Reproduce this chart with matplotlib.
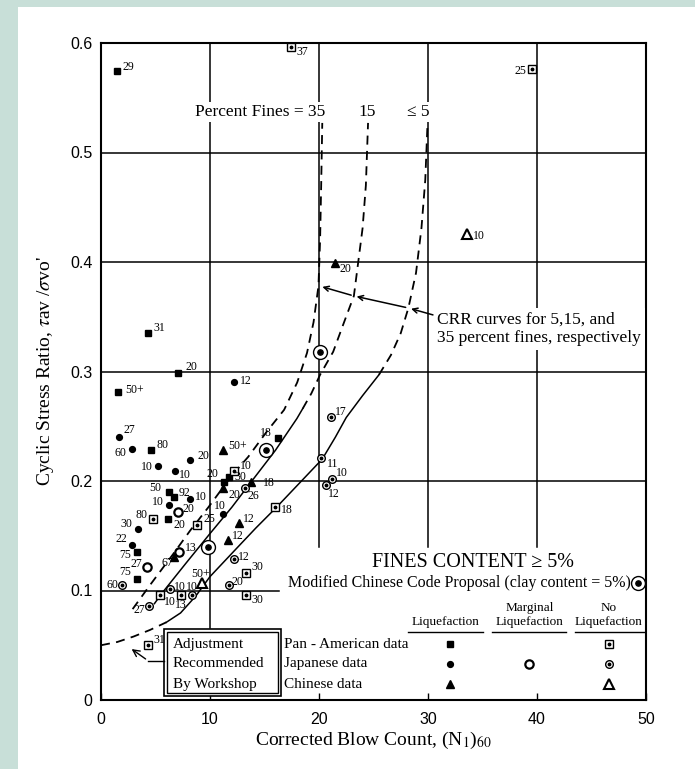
import matplotlib
matplotlib.use("Agg")
import matplotlib.pyplot as plt
from matplotlib.patches import Rectangle

plt.rcParams['font.family'] = ['Liberation Serif', 'DejaVu Serif']
plt.rcParams['mathtext.fontset'] = 'stix'

# ---- field case histories: (N1)60, cyclic stress ratio, fines label ----
# Pan-American data, liquefaction
pa_liq_n = [1.5, 4.3, 7.1, 1.6, 4.6, 16.2, 11.7, 11.3, 6.2, 6.7, 6.15, 3.3, 3.3]
pa_liq_csr = [0.574, 0.335, 0.299, 0.281, 0.228, 0.239, 0.2035, 0.199, 0.190, 0.1855, 0.165, 0.135, 0.1105]
pa_liq_lab = ['29', '31', '20', '50+', '80', '18', '30', '20', '50', '92', '20', '75', '75']
# Japanese data, liquefaction
jp_liq_n = [12.2, 1.65, 2.8, 8.2, 5.25, 6.8, 8.2, 6.25, 11.2, 3.35, 2.8]
jp_liq_csr = [0.290, 0.240, 0.229, 0.219, 0.214, 0.209, 0.184, 0.178, 0.170, 0.156, 0.142]
jp_liq_lab = ['12', '27', '60', '20', '10', '10', '10', '10', '10', '30', '22']
# Japanese data, marginal liquefaction
jp_mar_n = [7.1, 7.2, 4.2]
jp_mar_csr = [0.172, 0.135, 0.1217]
jp_mar_lab = ['20', '13', '27']
# Chinese data, liquefaction
cn_liq_n = [21.5, 11.2, 11.15, 13.8, 12.65, 11.65, 6.7]
cn_liq_csr = [0.399, 0.228, 0.194, 0.199, 0.1615, 0.146, 0.131]
cn_liq_lab = ['20', '50+', '20', '18', '12', '12', '67']
# Pan-American data, no liquefaction
pa_no_n = [17.45, 39.5, 12.2, 4.8, 8.85, 16.0, 13.3, 13.3, 7.3, 5.4, 4.3]
pa_no_csr = [0.596, 0.576, 0.209, 0.165, 0.160, 0.176, 0.116, 0.0955, 0.096, 0.0955, 0.050]
pa_no_lab = ['37', '25', '10', '80', '25', '18', '30', '30', '13', '10', '31']
# Japanese data, no liquefaction
jp_no_n = [21.1, 20.2, 21.2, 20.6, 13.2, 12.2, 11.7, 1.95, 6.35, 8.35, 4.4]
jp_no_csr = [0.258, 0.221, 0.202, 0.196, 0.1937, 0.129, 0.105, 0.105, 0.101, 0.096, 0.086]
jp_no_lab = ['17', '11', '10', '12', '26', '12', '20', '60', '10', '10', '27']
# Chinese data, no liquefaction
cn_no_n = [33.6, 9.3]
cn_no_csr = [0.426, 0.1066]
cn_no_lab = ['10', '50+']
# modified Chinese code proposal points
mcc_n = [15.1, 9.85, 20.05]
mcc_csr = [0.228, 0.140, 0.318]

# ---- CRR curves ----
f35_n = [2.9, 4.5, 6.6, 8.2, 9.85, 12.0, 13.5, 15.2, 16.8, 18.0, 18.9, 19.5, 19.95, 20.1, 20.2, 20.3]
f35_csr = [0.083, 0.105, 0.133, 0.155, 0.176, 0.205, 0.222, 0.245, 0.265, 0.29, 0.317, 0.345, 0.378, 0.42, 0.47, 0.527]
f15_solid_n = [4.9, 5.6, 7.8, 10.0, 12.0, 13.84, 16.0, 17.97, 18.5]
f15_solid_csr = [0.088, 0.0976, 0.125, 0.152, 0.176, 0.200, 0.228, 0.257, 0.266]
f15_dash_n = [18.5, 19.3, 20.1, 21.3, 22.3, 23.2, 23.6, 24.0, 24.3, 24.5]
f15_dash_csr = [0.266, 0.280, 0.297, 0.318, 0.345, 0.369, 0.400, 0.431, 0.47, 0.527]
f5_adj_n = [0.0, 1.5, 3.0, 4.5, 6.0]
f5_adj_csr = [0.050, 0.053, 0.058, 0.064, 0.071]
f5_solid_n = [6.0, 7.3, 8.7, 10.0, 12.3, 14.2, 16.1, 18.2, 20.3, 21.5, 22.5, 24.0, 25.5]
f5_solid_csr = [0.071, 0.0795, 0.095, 0.1127, 0.137, 0.157, 0.176, 0.198, 0.220, 0.240, 0.258, 0.278, 0.297]
f5_dash_n = [25.5, 26.6, 27.5, 28.2, 28.9, 29.4, 29.75, 29.95]
f5_dash_csr = [0.297, 0.315, 0.335, 0.358, 0.39, 0.431, 0.475, 0.525]

# label offsets (points) and alignment for each point label
pa_liq_off = [(4, 3, 'left'), (4, 4, 'left'), (5, 4, 'left'), (5, 2, 'left'), (4, 4, 'left'),
              (-4, 4, 'right'), (4, 0, 'left'), (-4, 6, 'right'), (-5, 3, 'right'), (3, 3, 'left'),
              (4, -4, 'left'), (-4, -2, 'right'), (-4, 5, 'right')]
jp_liq_off = [(4, 1, 'left'), (3, 5, 'left'), (-4, -3, 'right'), (5, 3, 'left'), (-4, -1, 'right'),
              (3, -3, 'left'), (3, 1, 'left'), (-4, 2, 'right'), (-2, 6, 'center'), (-4, 4, 'right'),
              (-3, 4, 'right')]
jp_mar_off = [(3, 2, 'left'), (4, 3, 'left'), (-3, 2, 'right')]
cn_liq_off = [(3, -4, 'left'), (4, 3, 'left'), (4, -5, 'left'), (8, -1, 'left'), (3, 3, 'left'),
              (3, 3, 'left'), (-5, -5, 'center')]
pa_no_off = [(4, -3, 'left'), (-4, -1, 'right'), (4, 4, 'left'), (-4, 3, 'right'), (4, 4, 'left'),
             (4, -2, 'left'), (4, 4, 'left'), (4, -3, 'left'), (0, -7, 'center'), (3, -5, 'left'),
             (4, 4, 'left')]
jp_no_off = [(3, 4, 'left'), (4, -4, 'left'), (3, 4, 'left'), (2, -6, 'left'), (2, -6, 'left'),
             (3, 1, 'left'), (2, 2, 'left'), (-3, 0, 'right'), (3, 2, 'left'), (0, 6, 'center'),
             (-3, -3, 'right')]
cn_no_off = [(4, -2, 'left'), (-1, 7, 'center')]

fig = plt.figure(figsize=(6.95, 7.69), dpi=100, facecolor='#c8dfd8')
fig.add_artist(Rectangle((18 / 695, 0), 1 - 18 / 695, 1 - 7 / 769, transform=fig.transFigure,
                         facecolor='white', edgecolor='none', zorder=-5))
ax = fig.add_axes([101 / 695, 69 / 769, 545 / 695, 657 / 769])
ax.set_xlim(0, 50)
ax.set_ylim(0, 0.6)
for s in ax.spines.values():
    s.set_linewidth(1.5)

ax.set_xticks([0, 10, 20, 30, 40, 50])
ax.set_yticks([0, 0.1, 0.2, 0.3, 0.4, 0.5, 0.6])
ax.set_yticklabels(['0', '0.1', '0.2', '0.3', '0.4', '0.5', '0.6'])
ax.tick_params(axis='x', direction='in', length=5, width=1, pad=9)
ax.tick_params(axis='y', length=0, pad=6)
for t in ax.get_xticklabels() + ax.get_yticklabels():
    t.set_fontfamily('Liberation Sans')
    t.set_fontsize(11.5)

ax.set_xlabel(r"Corrected Blow Count, (N$_{\rm 1}$)$_{60}$", fontsize=14, labelpad=2)
ax.set_ylabel(r"Cyclic Stress Ratio, $\tau$av /$\sigma$vo'", fontsize=14, labelpad=10)

# grid lines (partial, as on the original chart)
gl = dict(color='black', lw=1.1, zorder=1)
for y in [0.2, 0.3, 0.4, 0.5]:
    ax.plot([0, 50], [y, y], **gl)
ax.plot([0, 16.3], [0.1, 0.1], **gl)
ax.plot([10, 10], [0.066, 0.6], **gl)
for x in [20, 30, 40]:
    ax.plot([x, x], [0.14, 0.6], **gl)

# CRR curves
dash = dict(color='black', lw=1.3, ls=(0, (5, 3.5)), zorder=2)
solid = dict(color='black', lw=1.1, zorder=2)
ax.plot(f35_n, f35_csr, **dash)
ax.plot(f15_solid_n, f15_solid_csr, **solid)
ax.plot(f15_dash_n, f15_dash_csr, **dash)
ax.plot(f5_adj_n, f5_adj_csr, **dash)
ax.plot(f5_solid_n, f5_solid_csr, **solid)
ax.plot(f5_dash_n, f5_dash_csr, **dash)

# marker styles
liq_sq = dict(marker='s', ms=4.2, color='black', ls='none', zorder=5)
liq_ci = dict(marker='o', ms=4.2, color='black', ls='none', zorder=5)
liq_tr = dict(marker='^', ms=5.2, color='black', ls='none', zorder=5)
mar_ci = dict(marker='o', ms=6, mfc='white', mec='black', mew=1.6, ls='none', zorder=5)
no_sq = dict(marker='s', ms=6, mfc='white', mec='black', mew=1.0, ls='none', zorder=5)
no_ci = dict(marker='o', ms=5.5, mfc='white', mec='black', mew=1.0, ls='none', zorder=5)
no_tr = dict(marker='^', ms=7, mfc='white', mec='black', mew=1.5, ls='none', zorder=5)
dot = dict(marker='o', ms=1.8, color='black', ls='none', zorder=6)
mcc = dict(marker='o', ms=10, mfc='white', mec='black', mew=1.0, ls='none', zorder=5)
mcc_dot = dict(marker='o', ms=3.8, color='black', ls='none', zorder=6)


def put_labels(xs, ys, labels, offs):
    for x, y, t, (dx, dy, ha) in zip(xs, ys, labels, offs):
        ax.annotate(t, (x, y), xytext=(dx, dy), textcoords='offset points',
                    ha=ha, va='center', fontsize=8.5, zorder=7)


ax.plot(pa_liq_n, pa_liq_csr, **liq_sq)
ax.plot(jp_liq_n, jp_liq_csr, **liq_ci)
ax.plot(jp_mar_n, jp_mar_csr, **mar_ci)
ax.plot(cn_liq_n, cn_liq_csr, **liq_tr)
ax.plot(pa_no_n, pa_no_csr, **no_sq)
ax.plot(pa_no_n, pa_no_csr, **dot)
ax.plot(jp_no_n, jp_no_csr, **no_ci)
ax.plot(jp_no_n, jp_no_csr, **dot)
ax.plot(cn_no_n, cn_no_csr, **no_tr)
ax.plot(mcc_n, mcc_csr, **mcc)
ax.plot(mcc_n, mcc_csr, **mcc_dot)

put_labels(pa_liq_n, pa_liq_csr, pa_liq_lab, pa_liq_off)
put_labels(jp_liq_n, jp_liq_csr, jp_liq_lab, jp_liq_off)
put_labels(jp_mar_n, jp_mar_csr, jp_mar_lab, jp_mar_off)
put_labels(cn_liq_n, cn_liq_csr, cn_liq_lab, cn_liq_off)
put_labels(pa_no_n, pa_no_csr, pa_no_lab, pa_no_off)
put_labels(jp_no_n, jp_no_csr, jp_no_lab, jp_no_off)
put_labels(cn_no_n, cn_no_csr, cn_no_lab, cn_no_off)

# curve labels
wbox = dict(facecolor='white', edgecolor='none', pad=1.5)
ax.text(20.6, 0.537, 'Percent Fines = 35', ha='right', va='center', fontsize=12.5, bbox=wbox, zorder=4)
ax.text(24.4, 0.537, '15', ha='center', va='center', fontsize=12.5, bbox=wbox, zorder=4)
ax.text(29.1, 0.537, '≤ 5', ha='center', va='center', fontsize=12.5, bbox=wbox, zorder=4)

ax.text(30.8, 0.339, 'CRR curves for 5,15, and\n35 percent fines, respectively', ha='left',
        va='center', fontsize=12.5, linespacing=1.15, bbox=dict(facecolor='white', edgecolor='none', pad=3),
        zorder=4)
arr = dict(arrowstyle='->', lw=1.1, color='black', mutation_scale=9)
ax.annotate('', xy=(28.2, 0.358), xytext=(30.7, 0.351), arrowprops=arr, zorder=4)
ax.annotate('', xy=(23.2, 0.369), xytext=(28.2, 0.358), arrowprops=arr, zorder=4)
ax.annotate('', xy=(20.06, 0.378), xytext=(23.2, 0.369), arrowprops=arr, zorder=4)

ax.text(34.1, 0.126, 'FINES CONTENT ≥ 5%', ha='center', va='center', fontsize=14.5)
ax.text(48.6, 0.107, 'Modified Chinese Code Proposal (clay content = 5%)', ha='right',
        va='center', fontsize=11.5)
ax.plot([49.25], [0.107], **mcc)
ax.plot([49.25], [0.107], **mcc_dot)

# legend table
hdr = dict(ha='center', va='center', fontsize=9.5)
ax.text(31.6, 0.071, 'Liquefaction', **hdr)
ax.text(39.3, 0.084, 'Marginal', **hdr)
ax.text(39.3, 0.071, 'Liquefaction', **hdr)
ax.text(46.6, 0.084, 'No', **hdr)
ax.text(46.6, 0.071, 'Liquefaction', **hdr)
for x0, x1 in [(28.2, 35.0), (35.9, 42.7), (43.5, 49.9)]:
    ax.plot([x0, x1], [0.062, 0.062], color='black', lw=1.0)

row_y = [0.051, 0.033, 0.0145]
for y, t in zip(row_y, ['Pan - American data', 'Japanese data', 'Chinese data']):
    ax.text(16.8, y, t, ha='left', va='center', fontsize=11)
ax.plot([32.0], [row_y[0]], **liq_sq)
ax.plot([32.0], [row_y[1]], **liq_ci)
ax.plot([32.0], [row_y[2]], **liq_tr)
ax.plot([39.3], [row_y[1]], **mar_ci)
ax.plot([46.6], [row_y[0]], **no_sq)
ax.plot([46.6], [row_y[0]], **dot)
ax.plot([46.6], [row_y[1]], **no_ci)
ax.plot([46.6], [row_y[1]], **dot)
ax.plot([46.6], [row_y[2]], **no_tr)

# workshop adjustment box
ax.add_patch(Rectangle((5.8, 0.004), 10.7, 0.061, facecolor='white', edgecolor='black', lw=1.2, zorder=8))
ax.add_patch(Rectangle((6.1, 0.0068), 10.1, 0.0555, facecolor='none', edgecolor='black', lw=1.0, zorder=8))
for y, t in zip(row_y, ['Adjustment', 'Recommended', 'By Workshop']):
    ax.text(6.6, y, t, ha='left', va='center', fontsize=11, zorder=9)
ax.plot([5.8, 4.3], [0.036, 0.036], color='black', lw=1.0, zorder=8)
ax.annotate('', xy=(2.6, 0.048), xytext=(4.3, 0.036), arrowprops=dict(arrowstyle='->', lw=1.0, mutation_scale=12))

fig.savefig('out.png', dpi=100, facecolor=fig.get_facecolor())
